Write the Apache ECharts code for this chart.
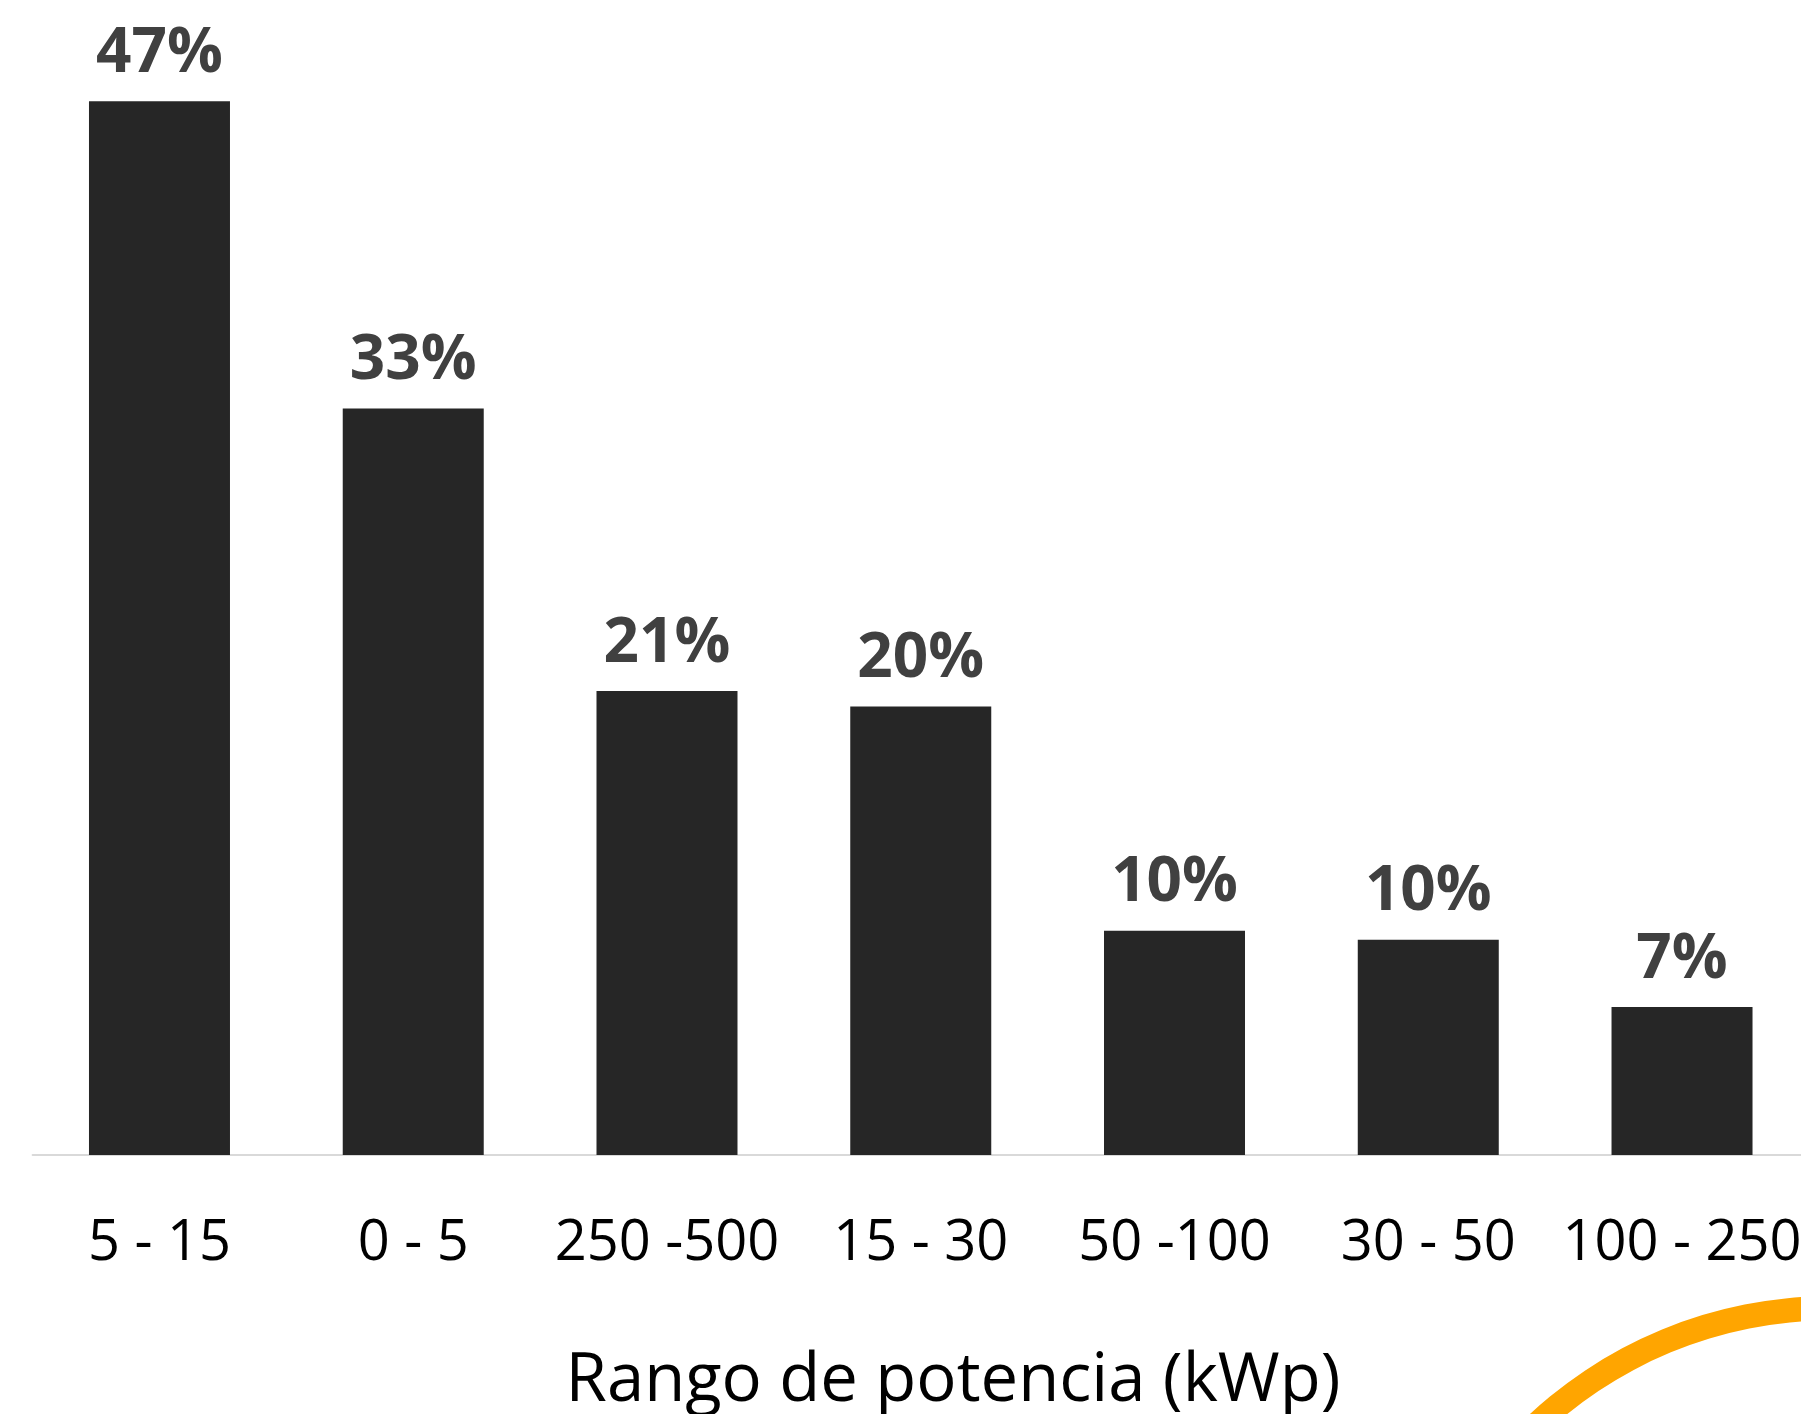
<!DOCTYPE html>
<html>
<head>
<meta charset="utf-8">
<script src="https://cdn.jsdelivr.net/npm/echarts@6/dist/echarts.min.js"></script>
<style>
  html, body { margin: 0; padding: 0; background: #ffffff; }
  #chart { width: 1801px; height: 1414px; }
</style>
</head>
<body>
<div id="chart"></div>
<script>
const categories = ['5 - 15', '0 - 5', '250 -500', '15 - 30', '50 -100', '30 - 50', '100 - 250'];
const shares = [47.0, 33.3, 20.7, 20.0, 10.0, 9.6, 6.6];
const axisTitle = 'Rango de potencia (kWp)';

const chart = echarts.init(document.getElementById('chart'), null, { renderer: 'canvas' });
chart.setOption({
  backgroundColor: '#ffffff',
  animation: false,
  title: {
    text: axisTitle,
    left: 948,
    top: 1343,
    textAlign: 'center',
    textStyle: { fontFamily: "'Open Sans', sans-serif", fontSize: 67, fontWeight: 'normal', color: '#000000' }
  },
  grid: { left: 32.6, top: 34, width: 1776.3, bottom: 259, containLabel: false, outerBoundsMode: 'none' },
  xAxis: {
    type: 'category',
    data: categories,
    axisLine: { show: true, lineStyle: { color: '#d9d9d9', width: 2 } },
    axisTick: { show: false },
    axisLabel: { interval: 0, margin: 61, fontSize: 56, color: '#000000', fontFamily: "'Open Sans', sans-serif", hideOverlap: false }
  },
  yAxis: {
    type: 'value', min: 0, max: 50,
    show: false,
    splitLine: { show: false }
  },
  series: [{
    type: 'bar',
    data: shares,
    barWidth: 141,
    itemStyle: { color: '#262626' },
    label: {
      show: true,
      position: 'top',
      distance: 16,
      formatter: p => Math.round(p.value) + '%',
      fontFamily: "'Open Sans', sans-serif",
      fontWeight: 'bold',
      fontSize: 62,
      color: '#404040'
    }
  }],
  graphic: [{
    type: 'ring',
    shape: { cx: 1831, cy: 1739, r: 443, r0: 418.5 },
    style: { fill: '#FFA500' },
    silent: true
  }]
});
</script>
</body>
</html>
